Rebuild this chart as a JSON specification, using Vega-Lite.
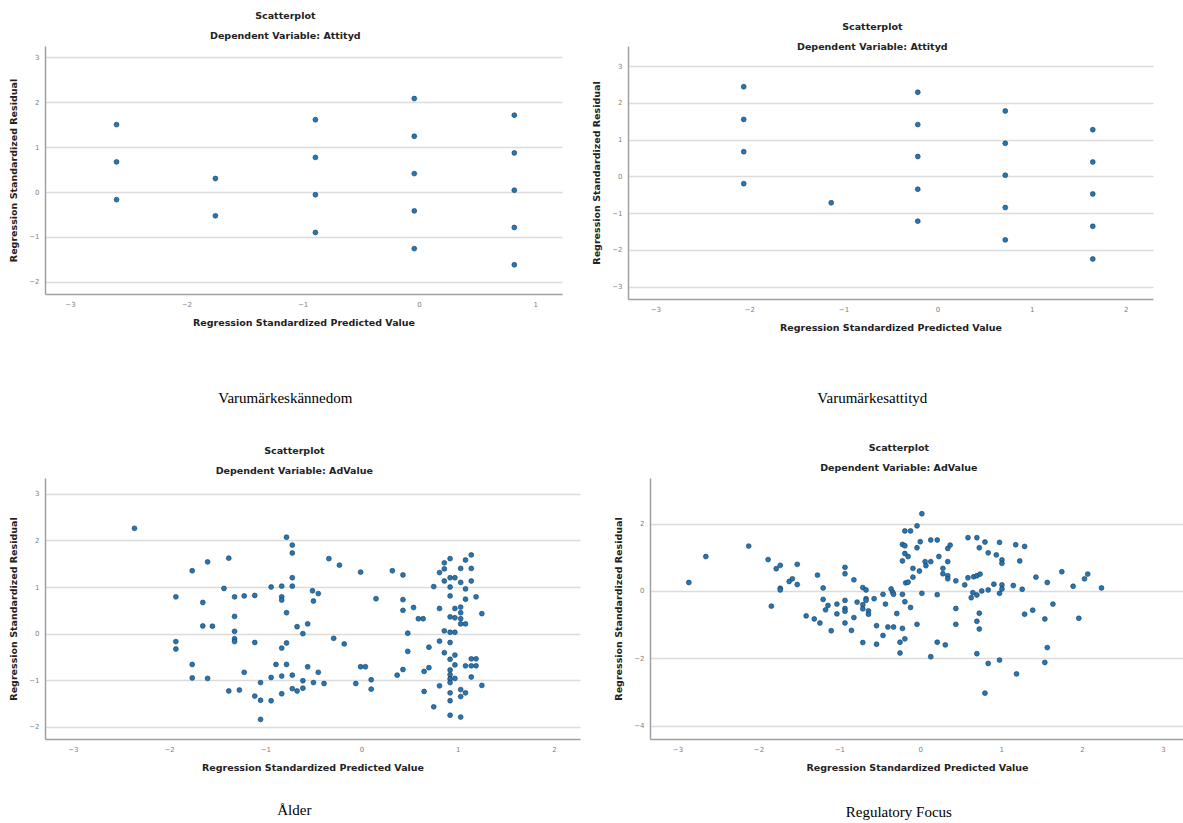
{
  "$schema": "https://vega.github.io/schema/vega-lite/v6.json",
  "padding": {"left": 8, "top": 11, "right": 0, "bottom": 0},
  "background": "white",
  "datasets": {
    "p1": [
      {"x": -2.6, "y": 1.5}, {"x": -2.6, "y": 0.67}, {"x": -2.6, "y": -0.17},
      {"x": -1.75, "y": 0.3}, {"x": -1.75, "y": -0.53},
      {"x": -0.89, "y": 1.61}, {"x": -0.89, "y": 0.77}, {"x": -0.89, "y": -0.06}, {"x": -0.89, "y": -0.9},
      {"x": -0.04, "y": 2.08}, {"x": -0.04, "y": 1.24}, {"x": -0.04, "y": 0.41}, {"x": -0.04, "y": -0.42}, {"x": -0.04, "y": -1.26},
      {"x": 0.82, "y": 1.71}, {"x": 0.82, "y": 0.87}, {"x": 0.82, "y": 0.04}, {"x": 0.82, "y": -0.79}, {"x": 0.82, "y": -1.62}
    ],
    "p2": [
      {"x": -2.06, "y": 2.44}, {"x": -2.06, "y": 1.55}, {"x": -2.06, "y": 0.67}, {"x": -2.06, "y": -0.2},
      {"x": -1.13, "y": -0.72},
      {"x": -0.21, "y": 2.29}, {"x": -0.21, "y": 1.41}, {"x": -0.21, "y": 0.54}, {"x": -0.21, "y": -0.35}, {"x": -0.21, "y": -1.22},
      {"x": 0.72, "y": 1.78}, {"x": 0.72, "y": 0.9}, {"x": 0.72, "y": 0.03}, {"x": 0.72, "y": -0.85}, {"x": 0.72, "y": -1.73},
      {"x": 1.65, "y": 1.27}, {"x": 1.65, "y": 0.39}, {"x": 1.65, "y": -0.48}, {"x": 1.65, "y": -1.36}, {"x": 1.65, "y": -2.25}
    ],
    "p3": [
      {"x": -2.36, "y": 2.26}, {"x": -0.78, "y": 2.07}, {"x": -0.72, "y": 1.9}, {"x": -0.72, "y": 1.73}, {"x": -1.6, "y": 1.54},
      {"x": -1.38, "y": 1.62}, {"x": -1.76, "y": 1.35}, {"x": -0.72, "y": 1.2}, {"x": -1.43, "y": 0.97}, {"x": -0.94, "y": 1.0},
      {"x": -0.83, "y": 1.02}, {"x": -0.72, "y": 1.02}, {"x": -1.93, "y": 0.79}, {"x": -1.32, "y": 0.79}, {"x": -1.22, "y": 0.81},
      {"x": -1.11, "y": 0.82}, {"x": -0.83, "y": 0.79}, {"x": -0.83, "y": 0.72}, {"x": -1.65, "y": 0.67}, {"x": -1.32, "y": 0.37},
      {"x": -0.78, "y": 0.45}, {"x": -1.65, "y": 0.165}, {"x": -1.55, "y": 0.16}, {"x": -1.32, "y": 0.05}, {"x": -1.32, "y": -0.11},
      {"x": -1.32, "y": -0.17}, {"x": -0.67, "y": 0.15}, {"x": -0.56, "y": 0.21}, {"x": -0.61, "y": 0.0}, {"x": -1.93, "y": -0.17},
      {"x": -1.93, "y": -0.33}, {"x": -1.11, "y": -0.19}, {"x": -0.78, "y": -0.2}, {"x": -0.83, "y": -0.31}, {"x": -1.76, "y": -0.66},
      {"x": -0.89, "y": -0.66}, {"x": -0.78, "y": -0.66}, {"x": -0.56, "y": -0.71}, {"x": -1.22, "y": -0.83}, {"x": -1.76, "y": -0.95},
      {"x": -1.6, "y": -0.96}, {"x": -0.94, "y": -0.94}, {"x": -0.83, "y": -0.91}, {"x": -0.72, "y": -0.89}, {"x": -0.61, "y": -1.01},
      {"x": -1.05, "y": -1.05}, {"x": -1.38, "y": -1.23}, {"x": -1.27, "y": -1.21}, {"x": -1.11, "y": -1.34}, {"x": -1.05, "y": -1.43},
      {"x": -0.94, "y": -1.44}, {"x": -0.83, "y": -1.29}, {"x": -0.72, "y": -1.18}, {"x": -0.67, "y": -1.23}, {"x": -0.61, "y": -1.17},
      {"x": -1.05, "y": -1.84},
      {"x": -0.51, "y": 0.92}, {"x": -0.45, "y": 0.86}, {"x": -0.5, "y": 0.7}, {"x": -0.34, "y": 1.61}, {"x": -0.23, "y": 1.47},
      {"x": -0.01, "y": 1.32}, {"x": 0.32, "y": 1.35}, {"x": 0.43, "y": 1.26}, {"x": 0.15, "y": 0.75}, {"x": 0.43, "y": 0.73},
      {"x": 0.43, "y": 0.5}, {"x": 0.54, "y": 0.56}, {"x": 0.59, "y": 0.32}, {"x": 0.64, "y": 0.32}, {"x": 0.48, "y": 0.01},
      {"x": -0.29, "y": -0.1}, {"x": -0.18, "y": -0.22}, {"x": 0.48, "y": -0.38}, {"x": -0.45, "y": -0.83}, {"x": -0.5, "y": -1.05},
      {"x": -0.39, "y": -1.07}, {"x": -0.01, "y": -0.71}, {"x": 0.04, "y": -0.71}, {"x": -0.06, "y": -1.07}, {"x": 0.1, "y": -0.99},
      {"x": 0.1, "y": -1.19}, {"x": 0.37, "y": -0.89}, {"x": 0.43, "y": -0.77}, {"x": 0.65, "y": -0.81}, {"x": 0.7, "y": -0.73},
      {"x": 0.7, "y": -0.29}, {"x": 0.65, "y": -1.24}, {"x": 0.75, "y": -1.57}, {"x": 0.75, "y": 1.01}, {"x": 0.81, "y": 1.31},
      {"x": 0.86, "y": 1.52}, {"x": 0.92, "y": 1.61}, {"x": 0.86, "y": 1.39}, {"x": 0.86, "y": 1.13}, {"x": 0.92, "y": 1.2},
      {"x": 0.92, "y": 1.0}, {"x": 0.97, "y": 1.2}, {"x": 1.03, "y": 1.4}, {"x": 1.03, "y": 1.1}, {"x": 1.08, "y": 1.58},
      {"x": 1.14, "y": 1.69}, {"x": 1.14, "y": 1.4}, {"x": 1.14, "y": 1.13}, {"x": 1.08, "y": 0.96}, {"x": 0.92, "y": 0.81},
      {"x": 1.19, "y": 0.79}, {"x": 1.08, "y": 0.74}, {"x": 0.81, "y": 0.54}, {"x": 0.97, "y": 0.54}, {"x": 1.03, "y": 0.57},
      {"x": 1.03, "y": 0.45}, {"x": 0.92, "y": 0.36}, {"x": 0.97, "y": 0.34}, {"x": 1.03, "y": 0.32}, {"x": 1.03, "y": 0.21},
      {"x": 1.08, "y": 0.21}, {"x": 1.25, "y": 0.43}, {"x": 0.86, "y": 0.06}, {"x": 0.92, "y": 0.03}, {"x": 0.97, "y": 0.03},
      {"x": 0.81, "y": -0.16}, {"x": 0.92, "y": -0.19}, {"x": 0.86, "y": -0.41}, {"x": 0.97, "y": -0.46}, {"x": 0.92, "y": -0.55},
      {"x": 1.14, "y": -0.54}, {"x": 1.19, "y": -0.54}, {"x": 1.08, "y": -0.69}, {"x": 1.14, "y": -0.69}, {"x": 1.19, "y": -0.69},
      {"x": 0.97, "y": -0.67}, {"x": 0.92, "y": -0.78}, {"x": 0.92, "y": -0.88}, {"x": 0.92, "y": -0.97}, {"x": 0.97, "y": -0.96},
      {"x": 1.14, "y": -0.93}, {"x": 0.92, "y": -1.05}, {"x": 0.81, "y": -1.12}, {"x": 0.92, "y": -1.27}, {"x": 1.03, "y": -1.2},
      {"x": 1.08, "y": -1.27}, {"x": 1.03, "y": -1.35}, {"x": 1.25, "y": -1.11}, {"x": 0.92, "y": -1.44}, {"x": 0.92, "y": -1.75},
      {"x": 1.03, "y": -1.79}
    ],
    "p4": [
      {"x": -2.86, "y": 0.25}, {"x": -2.65, "y": 1.02}, {"x": -2.12, "y": 1.33}, {"x": -1.88, "y": 0.93}, {"x": -1.78, "y": 0.66},
      {"x": -1.73, "y": 0.76}, {"x": -1.73, "y": 0.08}, {"x": -1.73, "y": 0.03}, {"x": -1.84, "y": -0.45}, {"x": -1.62, "y": 0.28},
      {"x": -1.58, "y": 0.36}, {"x": -1.52, "y": 0.79}, {"x": -1.52, "y": 0.19}, {"x": -1.27, "y": 0.47}, {"x": -1.2, "y": 0.09},
      {"x": -1.2, "y": -0.25}, {"x": -1.14, "y": -0.43}, {"x": -1.17, "y": -0.56}, {"x": -1.41, "y": -0.74}, {"x": -1.31, "y": -0.83},
      {"x": -1.24, "y": -0.95}, {"x": -1.1, "y": -1.18}, {"x": -1.03, "y": -0.39}, {"x": -1.03, "y": -0.68}, {"x": -0.93, "y": 0.7},
      {"x": -0.93, "y": 0.51}, {"x": -0.93, "y": -0.28}, {"x": -0.93, "y": -0.52}, {"x": -0.93, "y": -0.6}, {"x": -0.93, "y": -0.95},
      {"x": -0.85, "y": -1.17}, {"x": -0.82, "y": 0.33}, {"x": -0.82, "y": -0.79}, {"x": -0.78, "y": -0.33}, {"x": -0.71, "y": 0.1},
      {"x": -0.67, "y": 0.03}, {"x": -0.67, "y": -0.23}, {"x": -0.67, "y": -0.28}, {"x": -0.71, "y": -0.41}, {"x": -0.71, "y": -0.53},
      {"x": -0.64, "y": -0.59}, {"x": -0.64, "y": -0.69}, {"x": -0.57, "y": -0.23}, {"x": -0.71, "y": -1.53}, {"x": -0.54, "y": -1.03},
      {"x": -0.54, "y": -1.58}, {"x": -0.46, "y": -0.1}, {"x": -0.43, "y": -0.39}, {"x": -0.46, "y": -1.32}, {"x": -0.4, "y": -1.07},
      {"x": -0.33, "y": -1.07}, {"x": -0.36, "y": 0.06}, {"x": -0.34, "y": -0.04}, {"x": -0.33, "y": -0.1}, {"x": -0.29, "y": -0.67},
      {"x": -0.22, "y": -0.1}, {"x": -0.22, "y": -1.11}, {"x": -0.25, "y": -1.52}, {"x": -0.19, "y": -1.42}, {"x": -0.25, "y": -1.84},
      {"x": -0.19, "y": -0.32}, {"x": -0.12, "y": -0.49}, {"x": -0.22, "y": 0.89}, {"x": -0.22, "y": 1.38}, {"x": -0.19, "y": 1.34},
      {"x": -0.19, "y": 1.78}, {"x": -0.12, "y": 1.78}, {"x": -0.19, "y": 1.11}, {"x": -0.15, "y": 1.02}, {"x": -0.09, "y": 0.67},
      {"x": -0.18, "y": 0.24}, {"x": -0.15, "y": 0.26}, {"x": -0.09, "y": 0.41}, {"x": -0.04, "y": 1.28}, {"x": -0.04, "y": -0.99},
      {"x": -0.04, "y": 1.93}, {"x": 0.0, "y": 1.46}, {"x": -0.01, "y": 0.59}, {"x": 0.02, "y": 2.29}, {"x": 0.02, "y": -0.07},
      {"x": 0.06, "y": 0.87}, {"x": 0.07, "y": 0.75}, {"x": 0.13, "y": 0.87}, {"x": 0.13, "y": 1.51}, {"x": 0.21, "y": 1.51},
      {"x": 0.13, "y": -1.95}, {"x": 0.21, "y": -0.11}, {"x": 0.21, "y": -1.52}, {"x": 0.23, "y": 1.02}, {"x": 0.28, "y": 0.67},
      {"x": 0.28, "y": 0.51}, {"x": 0.31, "y": -1.6}, {"x": 0.34, "y": 1.26}, {"x": 0.37, "y": 1.36}, {"x": 0.34, "y": 0.87},
      {"x": 0.34, "y": 0.45}, {"x": 0.34, "y": 0.36}, {"x": 0.44, "y": 0.3}, {"x": 0.44, "y": -0.52}, {"x": 0.44, "y": -0.99},
      {"x": 0.55, "y": 0.18}, {"x": 0.59, "y": 1.58}, {"x": 0.7, "y": 1.58}, {"x": 0.59, "y": 0.39}, {"x": 0.63, "y": -0.2},
      {"x": 0.65, "y": -0.05}, {"x": 0.7, "y": -0.12}, {"x": 0.66, "y": 0.42}, {"x": 0.7, "y": 0.45}, {"x": 0.74, "y": 0.5},
      {"x": 0.73, "y": 1.28}, {"x": 0.73, "y": -0.66}, {"x": 0.7, "y": -0.9}, {"x": 0.73, "y": -1.13}, {"x": 0.7, "y": -1.86},
      {"x": 0.76, "y": 0.0}, {"x": 0.8, "y": 1.45}, {"x": 0.8, "y": -3.03}, {"x": 0.84, "y": 1.13}, {"x": 0.84, "y": 0.03},
      {"x": 0.84, "y": -2.15}, {"x": 0.91, "y": 0.2}, {"x": 0.94, "y": 1.07}, {"x": 0.98, "y": 1.44}, {"x": 0.98, "y": -0.07},
      {"x": 0.98, "y": -2.05}, {"x": 1.01, "y": 0.92}, {"x": 1.01, "y": 0.82}, {"x": 1.01, "y": 0.18}, {"x": 1.01, "y": 0.06},
      {"x": 1.15, "y": 0.16}, {"x": 1.18, "y": 1.37}, {"x": 1.29, "y": 1.32}, {"x": 1.23, "y": 0.89}, {"x": 1.19, "y": -2.46},
      {"x": 1.26, "y": 0.05}, {"x": 1.29, "y": -0.69}, {"x": 1.39, "y": -0.57}, {"x": 1.43, "y": 0.41}, {"x": 1.54, "y": -0.83},
      {"x": 1.57, "y": 0.25}, {"x": 1.57, "y": -1.68}, {"x": 1.54, "y": -2.12}, {"x": 1.64, "y": -0.39}, {"x": 1.75, "y": 0.57},
      {"x": 1.89, "y": 0.14}, {"x": 1.96, "y": -0.81}, {"x": 2.03, "y": 0.36}, {"x": 2.07, "y": 0.5}, {"x": 2.24, "y": 0.09}
    ]
  },
  "config": {
    "view": {"stroke": null},
    "font": "DejaVu Sans",
    "title": {"font": "DejaVu Sans", "fontSize": 9.5, "fontWeight": "bold", "color": "#222", "subtitleFont": "DejaVu Sans", "subtitleFontSize": 9.5, "subtitleFontWeight": "bold", "subtitleColor": "#222", "subtitlePadding": 10, "anchor": "middle", "frame": "bounds", "offset": 6},
    "axis": {"labelFont": "DejaVu Sans", "labelFontSize": 7, "labelColor": "#808080", "titleFont": "DejaVu Sans", "titleFontSize": 9.5, "titleFontWeight": "bold", "titleColor": "#222", "domainColor": "#a0a0a0", "domainWidth": 1.5, "ticks": false, "gridColor": "#dcdcdc", "gridWidth": 1.5, "labelPadding": 6},
    "axisX": {"grid": false, "titlePadding": 10},
    "axisY": {"grid": true, "titlePadding": 10},
    "point": {"filled": true, "size": 24, "color": "#2277b6", "stroke": "#1a3550", "strokeWidth": 0.6, "opacity": 1}
  },
  "spacing": 37,
  "vconcat": [
    {
      "spacing": 29,
      "hconcat": [
        {
          "title": {"text": "Varumärkeskännedom", "orient": "bottom", "font": "Liberation Serif", "fontSize": 15, "fontWeight": "normal", "color": "#000", "offset": 64},
          "vconcat": [
            {
              "data": {"name": "p1"},
              "width": 517, "height": 248,
              "title": {"text": "Scatterplot", "subtitle": "Dependent Variable: Attityd"},
              "mark": {"type": "point"},
              "encoding": {
                "x": {"field": "x", "type": "quantitative", "scale": {"domain": [-3.215, 1.23], "nice": false, "zero": false}, "axis": {"values": [-3, -2, -1, 0, 1], "title": "Regression Standardized Predicted Value"}},
                "y": {"field": "y", "type": "quantitative", "scale": {"domain": [-2.27, 3.25], "nice": false, "zero": false}, "axis": {"values": [-2, -1, 0, 1, 2, 3], "title": "Regression Standardized Residual"}}
              }
            }
          ]
        },
        {
          "title": {"text": "Varumärkesattityd", "orient": "bottom", "font": "Liberation Serif", "fontSize": 15, "fontWeight": "normal", "color": "#000", "offset": 59},
          "vconcat": [
            {
              "data": {"name": "p2"},
              "width": 525, "height": 253,
              "title": {"text": "Scatterplot", "subtitle": "Dependent Variable: Attityd", "dy": 11},
              "mark": {"type": "point"},
              "encoding": {
                "x": {"field": "x", "type": "quantitative", "scale": {"domain": [-3.29, 2.29], "nice": false, "zero": false}, "axis": {"values": [-3, -2, -1, 0, 1, 2], "title": "Regression Standardized Predicted Value"}},
                "y": {"field": "y", "type": "quantitative", "scale": {"domain": [-3.34, 3.55], "nice": false, "zero": false}, "axis": {"values": [-3, -2, -1, 0, 1, 2, 3], "title": "Regression Standardized Residual"}}
              }
            }
          ]
        }
      ]
    },
    {
      "spacing": 33,
      "hconcat": [
        {
          "title": {"text": "Ålder", "orient": "bottom", "font": "Liberation Serif", "fontSize": 15, "fontWeight": "normal", "color": "#000", "offset": 31},
          "vconcat": [
            {
              "data": {"name": "p3"},
              "width": 535, "height": 261,
              "title": {"text": "Scatterplot", "subtitle": "Dependent Variable: AdValue", "dy": 3},
              "mark": {"type": "point"},
              "encoding": {
                "x": {"field": "x", "type": "quantitative", "scale": {"domain": [-3.29, 2.27], "nice": false, "zero": false}, "axis": {"values": [-3, -2, -1, 0, 1, 2], "title": "Regression Standardized Predicted Value"}},
                "y": {"field": "y", "type": "quantitative", "scale": {"domain": [-2.26, 3.34], "nice": false, "zero": false}, "axis": {"values": [-2, -1, 0, 1, 2, 3], "title": "Regression Standardized Residual"}}
              }
            }
          ]
        },
        {
          "title": {"text": "Regulatory Focus", "orient": "bottom", "font": "Liberation Serif", "fontSize": 15, "fontWeight": "normal", "color": "#000", "offset": 33},
          "vconcat": [
            {
              "data": {"name": "p4"},
              "width": 534, "height": 261,
              "title": {"text": "Scatterplot", "subtitle": "Dependent Variable: AdValue"},
              "mark": {"type": "point"},
              "encoding": {
                "x": {"field": "x", "type": "quantitative", "scale": {"domain": [-3.34, 3.26], "nice": false, "zero": false}, "axis": {"values": [-3, -2, -1, 0, 1, 2, 3], "title": "Regression Standardized Predicted Value"}},
                "y": {"field": "y", "type": "quantitative", "scale": {"domain": [-4.39, 3.35], "nice": false, "zero": false}, "axis": {"values": [-4, -2, 0, 2], "title": "Regression Standardized Residual"}}
              }
            }
          ]
        }
      ]
    }
  ]
}
